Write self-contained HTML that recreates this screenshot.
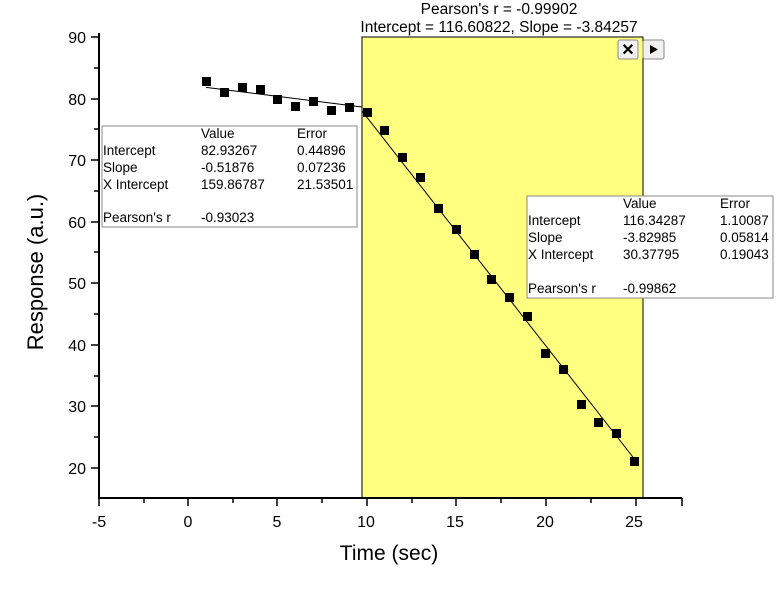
<!DOCTYPE html>
<html><head><meta charset="utf-8"><style>
body{margin:0;background:#fff;}
svg text{font-family:"Liberation Sans",Arial,sans-serif;}
</style></head><body>
<svg width="779" height="600" xmlns="http://www.w3.org/2000/svg">
<rect width="779" height="600" fill="#fff"/>
<rect x="362" y="37" width="281" height="461" fill="#ffff80" stroke="#000" stroke-width="1"/>
<line x1="99" y1="33" x2="99" y2="498" stroke="#000" stroke-width="2"/>
<line x1="98" y1="498" x2="682" y2="498" stroke="#000" stroke-width="2"/>
<g stroke="#000" stroke-width="1.5">
<line x1="99" y1="498" x2="99" y2="506"/><line x1="188" y1="498" x2="188" y2="506"/>
<line x1="277" y1="498" x2="277" y2="506"/><line x1="367" y1="498" x2="367" y2="506"/>
<line x1="456" y1="498" x2="456" y2="506"/><line x1="546" y1="498" x2="546" y2="506"/>
<line x1="636" y1="498" x2="636" y2="506"/><line x1="682" y1="498" x2="682" y2="506"/>
<line x1="144" y1="498" x2="144" y2="503"/><line x1="233" y1="498" x2="233" y2="503"/>
<line x1="322" y1="498" x2="322" y2="503"/><line x1="412" y1="498" x2="412" y2="503"/>
<line x1="501" y1="498" x2="501" y2="503"/><line x1="591" y1="498" x2="591" y2="503"/>
<line x1="91" y1="37" x2="99" y2="37"/><line x1="91" y1="99" x2="99" y2="99"/>
<line x1="91" y1="160" x2="99" y2="160"/><line x1="91" y1="222" x2="99" y2="222"/>
<line x1="91" y1="283" x2="99" y2="283"/><line x1="91" y1="345" x2="99" y2="345"/>
<line x1="91" y1="406" x2="99" y2="406"/><line x1="91" y1="468" x2="99" y2="468"/>
<line x1="94" y1="68" x2="99" y2="68"/><line x1="94" y1="129" x2="99" y2="129"/>
<line x1="94" y1="191" x2="99" y2="191"/><line x1="94" y1="252" x2="99" y2="252"/>
<line x1="94" y1="314" x2="99" y2="314"/><line x1="94" y1="376" x2="99" y2="376"/>
<line x1="94" y1="437" x2="99" y2="437"/>
</g>
<g font-size="16" text-anchor="middle" fill="#000">
<text x="99" y="527">-5</text><text x="188" y="527">0</text><text x="277" y="527">5</text>
<text x="366" y="527">10</text><text x="455" y="527">15</text><text x="545" y="527">20</text>
<text x="634" y="527">25</text>
</g>
<g font-size="16" text-anchor="end" fill="#000">
<text x="86" y="43">90</text><text x="86" y="105">80</text><text x="86" y="166">70</text>
<text x="86" y="228">60</text><text x="86" y="289">50</text><text x="86" y="351">40</text>
<text x="86" y="412">30</text><text x="86" y="474">20</text>
</g>
<text x="389" y="560" font-size="21" text-anchor="middle">Time (sec)</text>
<text transform="translate(43,272) rotate(-90)" font-size="22" text-anchor="middle">Response (a.u.)</text>
<line x1="206" y1="87.4" x2="362" y2="107" stroke="#000" stroke-width="1"/>
<line x1="362" y1="111" x2="636" y2="461" stroke="#000" stroke-width="1"/>
<g fill="#000">
<rect x="202" y="77" width="9" height="9"/><rect x="220" y="88" width="9" height="9"/>
<rect x="238" y="83" width="9" height="9"/><rect x="256" y="85" width="9" height="9"/>
<rect x="273" y="95" width="9" height="9"/><rect x="291" y="102" width="9" height="9"/>
<rect x="309" y="97" width="9" height="9"/><rect x="327" y="106" width="9" height="9"/>
<rect x="345" y="103" width="9" height="9"/><rect x="363" y="108" width="9" height="9"/>
<rect x="380" y="126" width="9" height="9"/><rect x="398" y="153" width="9" height="9"/>
<rect x="416" y="173" width="9" height="9"/><rect x="434" y="204" width="9" height="9"/>
<rect x="452" y="225" width="9" height="9"/><rect x="470" y="250" width="9" height="9"/>
<rect x="487" y="275" width="9" height="9"/><rect x="505" y="293" width="9" height="9"/>
<rect x="523" y="312" width="9" height="9"/><rect x="541" y="349" width="9" height="9"/>
<rect x="559" y="365" width="9" height="9"/><rect x="577" y="400" width="9" height="9"/>
<rect x="594" y="418" width="9" height="9"/><rect x="612" y="429" width="9" height="9"/>
<rect x="630" y="457" width="9" height="9"/>
</g>
<text x="499" y="14" font-size="15.5" text-anchor="middle">Pearson's r = -0.99902</text>
<text x="499" y="32" font-size="15.5" text-anchor="middle">Intercept = 116.60822, Slope = -3.84257</text>
<rect x="618" y="40" width="20" height="19" rx="2" fill="#f0f0f0" stroke="#888"/>
<text x="628" y="55" font-size="16" font-weight="bold" text-anchor="middle">✕</text>
<rect x="643" y="40" width="21" height="19" rx="2" fill="#f0f0f0" stroke="#888"/>
<polygon points="650,45 650,54 658,49.5" fill="#000"/>
<rect x="102" y="126" width="255" height="101" fill="#fff" stroke="#888"/>
<g font-size="13.5" fill="#000">
<text x="201" y="138">Value</text><text x="297" y="138">Error</text>
<text x="103" y="155">Intercept</text><text x="201" y="155">82.93267</text><text x="297" y="155">0.44896</text>
<text x="103" y="172">Slope</text><text x="201" y="172">-0.51876</text><text x="297" y="172">0.07236</text>
<text x="103" y="189">X Intercept</text><text x="201" y="189">159.86787</text><text x="297" y="189">21.53501</text>
<text x="103" y="222">Pearson's r</text><text x="201" y="222">-0.93023</text>
</g>
<rect x="527" y="196" width="246" height="102" fill="#fff" stroke="#888"/>
<g font-size="13.5" fill="#000">
<text x="623" y="208">Value</text><text x="720" y="208">Error</text>
<text x="528" y="225">Intercept</text><text x="623" y="225">116.34287</text><text x="720" y="225">1.10087</text>
<text x="528" y="242">Slope</text><text x="623" y="242">-3.82985</text><text x="720" y="242">0.05814</text>
<text x="528" y="259">X Intercept</text><text x="623" y="259">30.37795</text><text x="720" y="259">0.19043</text>
<text x="528" y="293">Pearson's r</text><text x="623" y="293">-0.99862</text>
</g>
</svg>
</body></html>
